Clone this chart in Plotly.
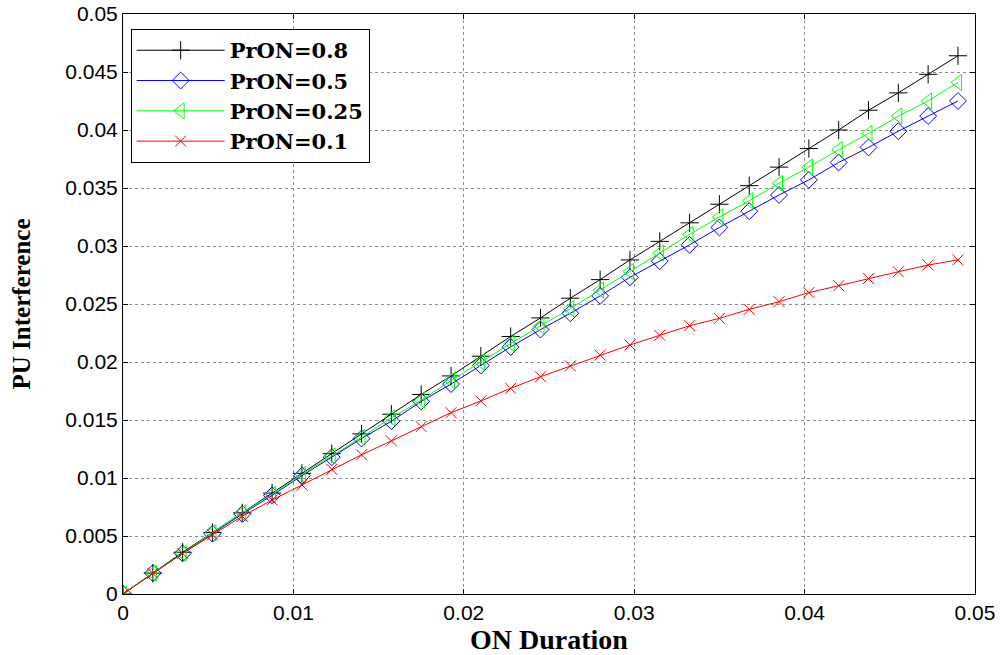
import plotly.graph_objects as go

on_duration = [i * 0.00175 for i in range(29)]

pron_08 = [0, 0.0018, 0.0036, 0.0053, 0.0070, 0.0087, 0.0104, 0.0121, 0.0138, 0.0155,
           0.0172, 0.0188, 0.0205, 0.0222, 0.0238, 0.0255, 0.0271, 0.0288, 0.0304, 0.0320,
           0.0336, 0.0352, 0.0368, 0.0384, 0.0400, 0.0417, 0.0432, 0.0448, 0.0464]
pron_05 = [0, 0.0018, 0.0035, 0.0052, 0.0069, 0.0085, 0.0102, 0.0118, 0.0134, 0.0149,
           0.0166, 0.0181, 0.0197, 0.0213, 0.0228, 0.0242, 0.0257, 0.0273, 0.0287, 0.0301,
           0.0316, 0.0330, 0.0344, 0.0357, 0.0372, 0.0385, 0.0399, 0.0412, 0.0425]
pron_025 = [0, 0.0018, 0.0035, 0.0053, 0.0070, 0.0086, 0.0103, 0.0119, 0.0135, 0.0152,
            0.0167, 0.0184, 0.0200, 0.0216, 0.0231, 0.0246, 0.0262, 0.0278, 0.0294, 0.0310,
            0.0325, 0.0339, 0.0354, 0.0368, 0.0383, 0.0397, 0.0412, 0.0425, 0.0441]
pron_01 = [0, 0.00178, 0.0035, 0.0051, 0.0067, 0.0081, 0.0094, 0.01075, 0.0120, 0.0132,
           0.01443, 0.01563, 0.01664, 0.01773, 0.01873, 0.01966, 0.0206, 0.02147, 0.0223, 0.02313,
           0.02376, 0.02454, 0.0252, 0.02598, 0.02658, 0.0272, 0.02778, 0.02836, 0.0288]

series_names = ["PrON=0.8", "PrON=0.5", "PrON=0.25", "PrON=0.1"]
series_values = [pron_08, pron_05, pron_025, pron_01]
colors = ["#000000", "#0000ff", "#00ff00", "#ff0000"]
symbols = ["cross-thin-open", "diamond-open", "triangle-left-open", "x-thin-open"]
sizes = [13, 13, 14, 11]

x_ticks = [0, 0.01, 0.02, 0.03, 0.04, 0.05]
x_ticklabels = ["0", "0.01", "0.02", "0.03", "0.04", "0.05"]
y_ticks = [0, 0.005, 0.01, 0.015, 0.02, 0.025, 0.03, 0.035, 0.04, 0.045, 0.05]
y_ticklabels = ["0", "0.005", "0.01", "0.015", "0.02", "0.025", "0.03", "0.035", "0.04", "0.045", "0.05"]

fig = go.Figure()
for name, vals, c, s, sz in zip(series_names, series_values, colors, symbols, sizes):
    fig.add_trace(go.Scatter(
        x=on_duration, y=vals, name="<b>" + name + "</b>", mode="lines+markers",
        line=dict(color=c, width=1),
        marker=dict(symbol=s, size=sz, color=c, line=dict(color=c, width=1)),
    ))

axis_common = dict(
    showline=True, linecolor="black", linewidth=1, mirror="ticks",
    ticks="inside", ticklen=5, tickcolor="black",
    showgrid=True, gridcolor="#8c8c8c", griddash="dot", gridwidth=1,
    zeroline=False, automargin=False,
    tickfont=dict(family="Liberation Sans, Arial", size=21, color="black"),
)

fig.update_layout(
    width=1000, height=655,
    margin=dict(l=123, r=25, t=14, b=61),
    paper_bgcolor="white", plot_bgcolor="white",
    xaxis=dict(range=[0, 0.05], tickvals=x_ticks, ticktext=x_ticklabels,
               title=dict(text="<b>ON Duration</b>", standoff=3,
                          font=dict(family="Liberation Serif, Times New Roman", size=28, color="black")),
               **axis_common),
    yaxis=dict(range=[0, 0.05], tickvals=y_ticks, ticktext=y_ticklabels,
               title=dict(text="<b>PU Interference</b>", standoff=27,
                          font=dict(family="Liberation Serif, Times New Roman", size=25, color="black")),
               **axis_common),
    legend=dict(x=0.009, y=0.974, xanchor="left", yanchor="top",
                bgcolor="white", bordercolor="black", borderwidth=1,
                font=dict(family="DejaVu Serif", size=21, color="black"),
                itemwidth=88, tracegroupgap=0),
    showlegend=True,
)

fig.write_html("out.html", config={"displayModeBar": False},
               post_script="document.body.style.margin='0px';")
